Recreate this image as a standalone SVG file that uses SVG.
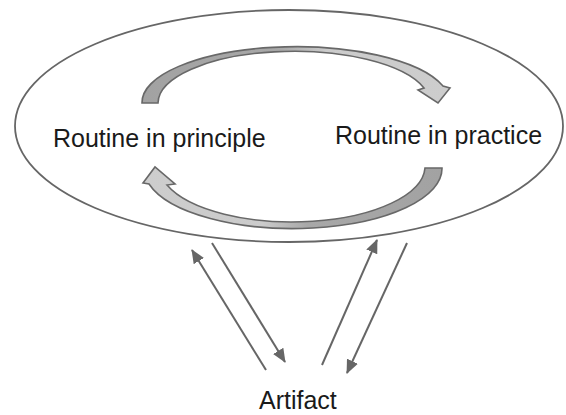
<svg xmlns="http://www.w3.org/2000/svg" width="566" height="415" viewBox="0 0 566 415">
  <style>
    .lbl { font-family: "Liberation Sans", Arial, sans-serif; font-size: 25px; fill: #1a1a1a; }
    .band { stroke: #686868; stroke-width: 1.6; stroke-linejoin: miter; }
    .conn { stroke: #666666; stroke-width: 2; fill: none; marker-end: url(#ah); }
  </style>
  <defs>
    <marker id="ah" markerUnits="userSpaceOnUse" markerWidth="14" markerHeight="12" viewBox="0 0 14 12" refX="13" refY="6" orient="auto">
      <path d="M0,0 L14,6 L0,12 z" fill="#666666"/>
    </marker>
    <linearGradient id="gTop" gradientUnits="userSpaceOnUse" x1="142" y1="0" x2="450" y2="0">
      <stop offset="0" stop-color="#a2a2a2"/>
      <stop offset="0.45" stop-color="#a8a8a8"/>
      <stop offset="0.6" stop-color="#cbcbcb"/>
      <stop offset="1" stop-color="#cdcdcd"/>
    </linearGradient>
    <linearGradient id="gBot" gradientUnits="userSpaceOnUse" x1="442" y1="0" x2="143" y2="0">
      <stop offset="0" stop-color="#a2a2a2"/>
      <stop offset="0.45" stop-color="#a8a8a8"/>
      <stop offset="0.6" stop-color="#cbcbcb"/>
      <stop offset="1" stop-color="#cdcdcd"/>
    </linearGradient>
  </defs>

  <g id="routine-ellipse">
    <ellipse cx="289" cy="126" rx="274" ry="116" fill="none" stroke="#666666" stroke-width="1.8"/>
  </g>

  <g id="cycle-arrows">
    <path class="band" fill="url(#gTop)" d="M142,103 A154,56 0 0 1 443,86 L450,88 L438,103 L418,90 L424,88 A136,52 0 0 0 158,103 Z"/>
    <path class="band" fill="url(#gBot)" d="M425,168 L442,168 A149,60 0 0 1 149,184 L143,183 L155,167 L175,184 L167,185 A133,56 0 0 0 425,168 Z"/>
  </g>

  <g id="node-principle">
    <text class="lbl" x="53" y="147">Routine in principle</text>
  </g>
  <g id="node-practice">
    <text class="lbl" x="335" y="143.5">Routine in practice</text>
  </g>
  <g id="node-artifact">
    <text class="lbl" x="259" y="409">Artifact</text>
  </g>

  <g id="connectors">
    <line class="conn" x1="266" y1="370" x2="192" y2="250"/>
    <line class="conn" x1="212" y1="243" x2="285" y2="362"/>
    <line class="conn" x1="322" y1="365" x2="377" y2="240"/>
    <line class="conn" x1="407" y1="243" x2="347" y2="373"/>
  </g>
</svg>
